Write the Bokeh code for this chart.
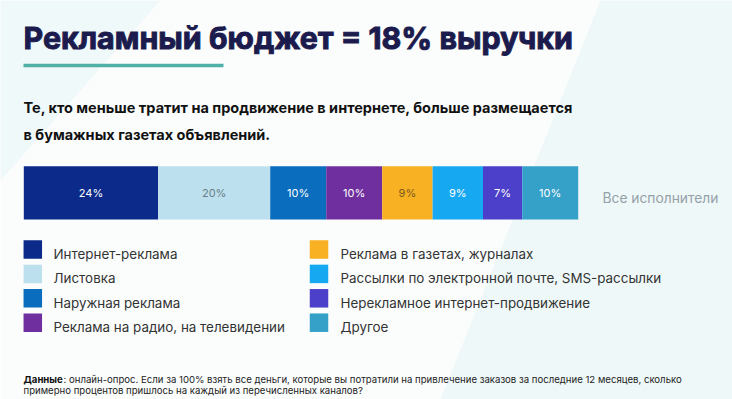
from bokeh.plotting import figure
from bokeh.models import Range1d, Label, ColumnDataSource
from bokeh.core.properties import value
from bokeh.embed import file_html
from bokeh.resources import INLINE

# ---- data ----
categories = ["Интернет-реклама", "Листовка", "Наружная реклама",
              "Реклама на радио, на телевидении", "Реклама в газетах, журналах",
              "Рассылки по электронной почте, SMS-рассылки",
              "Нерекламное интернет-продвижение", "Другое"]
shares = [24, 20, 10, 10, 9, 9, 7, 10]
colors = ["#0b2a8a", "#bde0ee", "#0a6dbd", "#6f2f9f", "#f8b122", "#16a8f1", "#4c3fc9", "#35a1c9"]
label_colors = ["#ffffff", "#6b7f8a", "#ffffff", "#ffffff", "#7a5a1e", "#ffffff", "#ffffff", "#ffffff"]
bar_name = "Все исполнители"

title = "Рекламный бюджет = 18% выручки"
subtitle1 = "Те, кто меньше тратит на продвижение в интернете, больше размещается"
subtitle2 = "в бумажных газетах объявлений."
note_bold = "Данные"
note1 = ": онлайн-опрос. Если за 100% взять все деньги, которые вы потратили на привлечение заказов за последние 12 месяцев, сколько"
note2 = "примерно процентов пришлось на каждый из перечисленных каналов?"

# ---- layout ----
W, H = 732, 399
PX_PER_PCT = 5.6
X0 = 23.3                      # px where 0% starts
xs = -X0 / PX_PER_PCT
def px(v):
    return xs + v / PX_PER_PCT

p = figure(width=W, height=H, output_backend="svg", toolbar_location=None,
           x_range=Range1d(xs, xs + W / PX_PER_PCT), y_range=Range1d(H, 0),
           min_border=0)
p.axis.visible = False
p.grid.visible = False
p.outline_line_color = None
p.background_fill_color = "#fbfdfd"
p.border_fill_color = "#fbfdfd"

# subtle background tints
p.patch([px(0), px(160), px(0)], [0, 0, 180], fill_color="#eaf6f6", fill_alpha=0.7, line_color=None)
p.patch([px(600), px(732), px(732), px(440)], [0, 0, 399, 399],
        fill_color="#e9f5f5", fill_alpha=0.7, line_color=None)

# stacked bar
lefts, rights = [], []
acc = 0
for s in shares:
    lefts.append(acc)
    acc += s
    rights.append(acc)
mids = [(l + r) / 2 for l, r in zip(lefts, rights)]
bar_y = 192.35
src = ColumnDataSource(dict(left=lefts, right=rights, y=[bar_y] * len(shares),
                            color=colors, mid=mids,
                            txt=[f"{s}%" for s in shares], tc=label_colors))
p.hbar(y="y", left="left", right="right", height=53.3, color="color",
       line_color=None, source=src)
p.text(x="mid", y="y", text="txt", text_color="tc", source=src,
       text_font=value("Inter"), text_font_size="11px",
       text_align="center", text_baseline="middle")

p.add_layout(Label(x=602, x_units="screen", y=197.3, text=bar_name,
                   text_font="Inter", text_font_size="13.8px", text_color="#93a1a8",
                   text_baseline="alphabetic"))

# title
p.add_layout(Label(x=23, x_units="screen", y=37, text=title,
                   text_font="Inter", text_font_size="30.4px", text_font_style="bold",
                   text_color="#1c1b4d", text_outline_color="#1c1b4d",
                   text_baseline="alphabetic"))
p.line([px(23), px(223)], [65, 65], line_color="#4fb0a8", line_width=3.5)

p.add_layout(Label(x=23, x_units="screen", y=107, text=subtitle1,
                   text_font="Inter", text_font_size="14.5px", text_font_style="bold",
                   text_color="#111111", text_baseline="alphabetic"))
p.add_layout(Label(x=23, x_units="screen", y=134, text=subtitle2,
                   text_font="Inter", text_font_size="14.5px", text_font_style="bold",
                   text_color="#111111", text_baseline="alphabetic"))

# legend
leg_x = [px(32.3) if i < 4 else px(318.5) for i in range(len(categories))]
leg_tx = [px(53) if i < 4 else px(340) for i in range(len(categories))]
leg_y = [249 + 24.4 * (i % 4) for i in range(len(categories))]
leg_ty = [v + 4.5 for v in leg_y]
lsrc = ColumnDataSource(dict(x=leg_x, tx=leg_tx, y=leg_y, ty=leg_ty, color=colors, name=categories))
p.rect(x="x", y="y", width=18.5 / PX_PER_PCT, height=18.5, color="color",
       line_color=None, source=lsrc)
p.text(x="tx", y="ty", text="name", source=lsrc, text_font=value("Inter"),
       text_font_size="13.4px", text_color="#333333", text_baseline="alphabetic")

# footnote
p.add_layout(Label(x=23, x_units="screen", y=379, text=note_bold,
                   text_font="Inter", text_font_size="9.6px", text_font_style="bold",
                   text_color="#111111", text_baseline="alphabetic"))
p.add_layout(Label(x=63, x_units="screen", y=379, text=note1,
                   text_font="Inter", text_font_size="9.6px",
                   text_color="#222222", text_baseline="alphabetic"))
p.add_layout(Label(x=23, x_units="screen", y=390, text=note2,
                   text_font="Inter", text_font_size="9.6px",
                   text_color="#222222", text_baseline="alphabetic"))

open("out.html", "w").write(file_html(p, INLINE))
